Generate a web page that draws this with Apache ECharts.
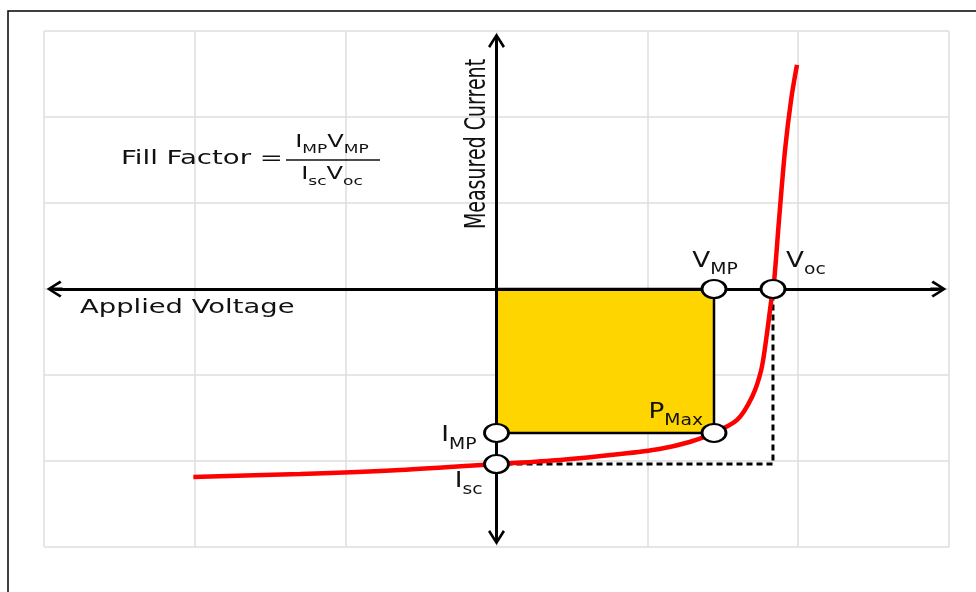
<!DOCTYPE html>
<html>
<head>
<meta charset="utf-8">
<script src="https://cdn.jsdelivr.net/npm/echarts@6/dist/echarts.min.js"></script>
<style>
  html, body { margin: 0; background: #fff; }
  #chart { width: 976px; height: 592px; }
</style>
</head>
<body>
<div id="chart"></div>
<script>
// solar cell I-V curve, arbitrary units (one grid cell = 1)
const curveV = [-2.01, -1.30, -0.64, 0.01, 0.42, 0.82, 1.08, 1.28, 1.44, 1.595, 1.694, 1.755, 1.79, 1.822, 1.84, 1.873, 1.913, 1.953, 1.992];
const curveI = [-2.186, -2.151, -2.105, -2.035, -1.988, -1.919, -1.86, -1.779, -1.674, -1.523, -1.256, -0.942, -0.558, -0.128, 0.081, 0.802, 1.616, 2.198, 2.605];

const Vmp = 1.442, Imp = -1.674, Voc = 1.833, Isc = -2.035;
const pointNames = ['VMP', 'Voc', 'IMP', 'PMax', 'Isc'];
const pointV = [Vmp, Voc, 0, Vmp, 0];
const pointI = [0, 0, Imp, Imp, Isc];

const axisMin = -3, axisMax = 3;
const axisReachX = 2.93, axisReachY = 2.884; // drawn length of the two arrows

const FONT = 'DejaVu Sans';
const INK = '#111';
// open chevron with a short stem so it joins the axis line
const chevron = 'path://M6,0 L12,10 L10.5,11.3 L7,5.2 L7,12 L5,12 L5,5.2 L1.5,11.3 L0,10 Z';

const chart = echarts.init(document.getElementById('chart'));

const gridAxis = {
  type: 'value',
  min: axisMin,
  max: axisMax,
  interval: 1,
  axisLine: { show: false },
  axisTick: { show: false },
  axisLabel: { show: false },
  splitLine: { show: true, lineStyle: { color: '#dedede', width: 1.5 } }
};

chart.setOption({
  animation: false,
  grid: { left: 44, right: 27, top: 31, bottom: 45 },
  xAxis: gridAxis,
  yAxis: gridAxis,
  series: [
    {
      name: 'box',
      type: 'line',
      data: [],
      z: 1,
      markArea: {
        silent: true,
        itemStyle: { color: '#FFD500', borderColor: '#000', borderWidth: 2.5 },
        data: [[{ coord: [0, 0] }, { coord: [Vmp, Imp] }]]
      }
    },
    {
      name: 'guides',
      type: 'line',
      z: 2,
      symbol: 'none',
      lineStyle: { color: '#000', width: 3, type: [6, 4] },
      data: [[0, Isc], [Voc, Isc], [Voc, 0]]
    },
    {
      name: 'IV',
      type: 'line',
      z: 3,
      symbol: 'none',
      smooth: 0.3,
      lineStyle: { color: '#ff0000', width: 4.5 },
      data: curveV.map((v, i) => [v, curveI[i]])
    },
    {
      name: 'axes',
      type: 'line',
      z: 4,
      data: [],
      markLine: {
        silent: true,
        symbol: [chevron, chevron],
        symbolSize: [17, 16],
        label: { show: false },
        lineStyle: { color: '#000', width: 3, type: 'solid' },
        data: [
          [{ coord: [-axisReachX, 0] }, { coord: [axisReachX, 0] }],
          [{ coord: [0, -axisReachY] }, { coord: [0, axisReachY] }]
        ]
      }
    },
    {
      name: 'points',
      type: 'scatter',
      z: 5,
      symbol: 'circle',
      symbolSize: [24, 18],
      itemStyle: { color: '#fff', opacity: 1, borderColor: '#000', borderWidth: 2.5 },
      data: pointV.map((v, i) => [v, pointI[i]])
    }
  ]
});

// text annotations, stretched wide like the original drawing
function subText(parts, size) {
  // parts: [main, sub, main, sub, ...]
  let t = '';
  parts.forEach((p, i) => { t += (i % 2 ? '{s|' : '{m|') + p + '}'; });
  return {
    text: t,
    rich: {
      m: { fontSize: size, fontFamily: FONT, fill: INK, padding: [0, 0, Math.round(size * 0.3), 0], verticalAlign: 'bottom' },
      s: { fontSize: Math.round(size * 0.72), fontFamily: FONT, fill: INK, verticalAlign: 'bottom' }
    }
  };
}
const labelSpec = {
  VMP:  { parts: ['V', 'MP'],  dx: 1,   dy: -11, align: 'center', va: 'bottom' },
  Voc:  { parts: ['V', 'oc'],  dx: 13,  dy: -11, align: 'left',   va: 'bottom' },
  IMP:  { parts: ['I', 'MP'],  dx: -20, dy: 6,   align: 'right',  va: 'middle' },
  PMax: { parts: ['P', 'Max'], dx: -11, dy: -4,  align: 'right',  va: 'bottom' },
  Isc:  { parts: ['I', 'sc'],  dx: -14, dy: 7,   align: 'right',  va: 'top' }
};

const graphics = [
  {
    type: 'rect', silent: true,
    shape: { x: 8, y: 11, width: 1000, height: 620 },
    style: { fill: 'none', stroke: '#000', lineWidth: 1.5 }
  },
  {
    type: 'text', x: 80, y: 308, scaleX: 1.37,
    style: { text: 'Applied Voltage', fontSize: 20, fontFamily: FONT, fill: INK, align: 'left', verticalAlign: 'middle' }
  },
  {
    type: 'text', x: 478, y: 144, rotation: Math.PI / 2, scaleY: 1.5,
    style: { text: 'Measured Current', fontSize: 19, fontFamily: FONT, fill: INK, align: 'center', verticalAlign: 'middle' }
  },
  {
    type: 'text', x: 283, y: 159, scaleX: 1.38,
    style: { text: 'Fill Factor =', fontSize: 20, fontFamily: FONT, fill: INK, align: 'right', verticalAlign: 'middle' }
  },
  {
    type: 'text', x: 332, y: 156, scaleX: 1.42,
    style: Object.assign(subText(['I', 'MP', 'V', 'MP'], 17), { align: 'center', verticalAlign: 'bottom' })
  },
  {
    type: 'line', silent: true,
    shape: { x1: 286, y1: 160, x2: 380, y2: 160 },
    style: { stroke: INK, lineWidth: 1.5 }
  },
  {
    type: 'text', x: 332, y: 166, scaleX: 1.42,
    style: Object.assign(subText(['I', 'sc', 'V', 'oc'], 17), { align: 'center', verticalAlign: 'top' })
  }
];

pointNames.forEach((name, i) => {
  const p = chart.convertToPixel({ gridIndex: 0 }, [pointV[i], pointI[i]]);
  const spec = labelSpec[name];
  graphics.push({
    type: 'text', x: p[0] + spec.dx, y: p[1] + spec.dy, scaleX: 1.25, z: 10,
    style: Object.assign(subText(spec.parts, 21), { align: spec.align, verticalAlign: spec.va })
  });
});

chart.setOption({ graphic: graphics });
</script>
</body>
</html>
